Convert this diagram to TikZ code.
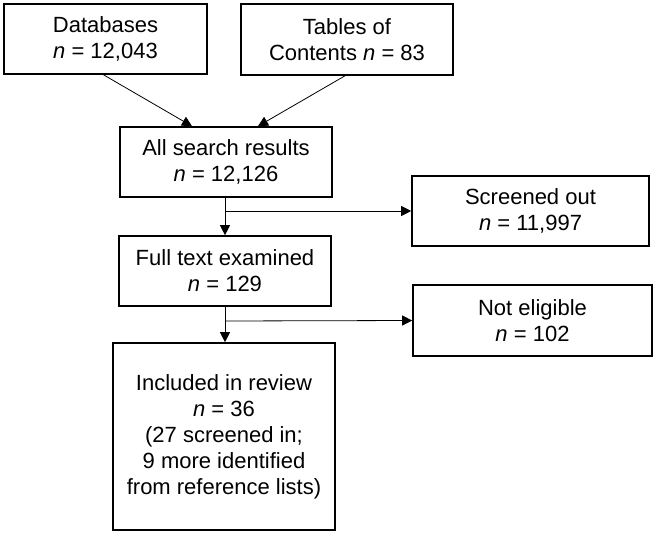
\documentclass[tikz,border=0pt]{standalone}
\usepackage{fontspec}
\setmainfont{Liberation Sans}
\usetikzlibrary{arrows.meta}

\begin{document}
\begin{tikzpicture}[x=1pt, y=-1pt,
    stagebox/.style={draw, line width=1.6pt, rectangle, align=center,
      inner sep=0pt, font=\fontsize{22}{26}\selectfont},
    flowarrow/.style={line width=0.8pt, -{Triangle[length=10pt,width=10pt]}}]

  \useasboundingbox (0,0) rectangle (656,535);

  %% sources
  \node[stagebox, minimum width=203pt, minimum height=70pt] (db) at (105.5,39)
    {Databases\\\textit{n} = 12,043};
  \node[stagebox, minimum width=212pt, minimum height=71pt] (toc) at (347,39.5)
    {Tables of\\Contents \textit{n} = 83};

  %% main column
  \node[stagebox, minimum width=212pt, minimum height=70pt] (all) at (226,162)
    {All search results\\\textit{n} = 12,126};
  \node[stagebox, minimum width=212pt, minimum height=70pt] (full) at (225,271)
    {Full text examined\\\textit{n} = 129};
  \node[stagebox, minimum width=222pt, minimum height=187pt] (incl) at (224,436.5)
    {Included in review\\\textit{n} = 36\\(27 screened in;\\9 more identified\\from reference lists)};

  %% excluded
  \node[stagebox, minimum width=237pt, minimum height=70pt] (scrout) at (530.5,211)
    {Screened out\\\textit{n} = 11,997};
  \node[stagebox, minimum width=239pt, minimum height=71pt] (notelig) at (532.5,320.5)
    {Not eligible\\\textit{n} = 102};

  \coordinate (split1) at (225,211);
  \coordinate (split2) at (225,321);

  \draw[flowarrow] ([xshift=-2pt]db.south) -- ([xshift=-34pt]all.north); %% db -> all
  \draw[flowarrow] ([xshift=-2pt]toc.south) -- ([xshift=32pt]all.north); %% toc -> all
  \draw[flowarrow] (all.south -| split1) -- (full.north -| split1); %% all -> full
  \draw[flowarrow] (split1) -- (scrout.west); %% all -> screened out
  \draw[flowarrow] (full.south -| split2) -- (incl.north -| split2); %% full -> included
  \draw[flowarrow] (split2) -- (notelig.west); %% full -> not eligible

\end{tikzpicture}
\end{document}
